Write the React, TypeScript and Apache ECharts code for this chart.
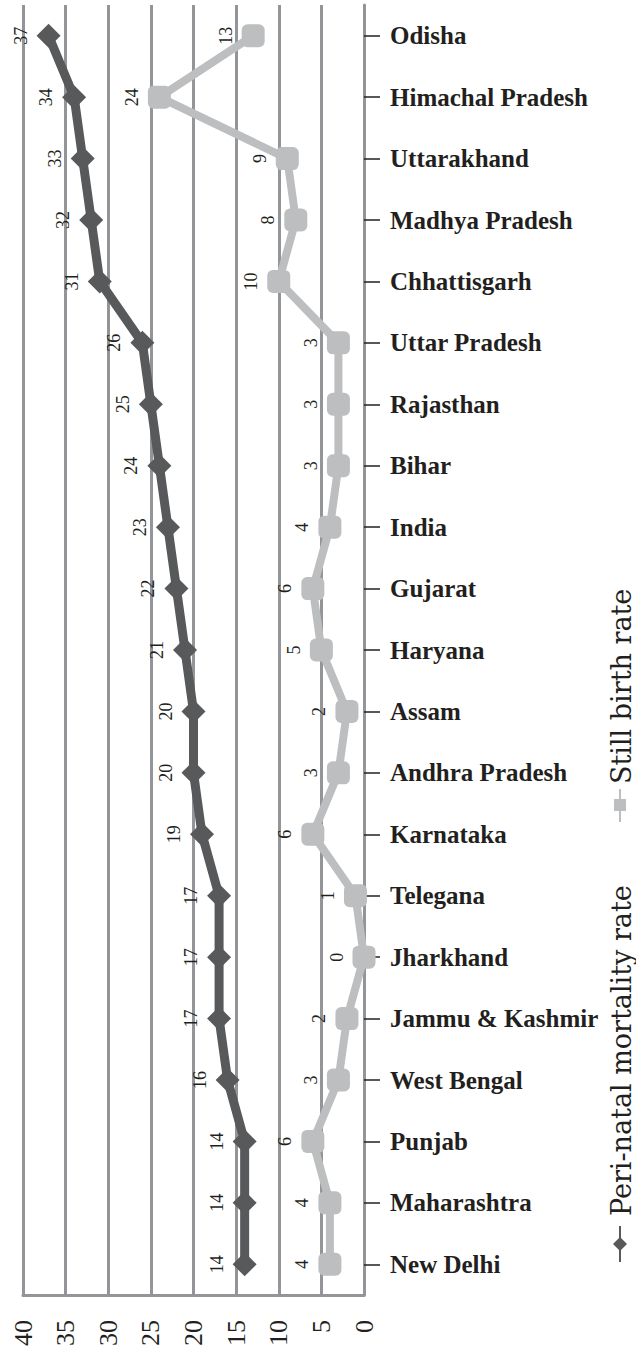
import React, { useEffect, useRef } from "react";
import * as echarts from "echarts";

const categories = [
  "Odisha", "Himachal Pradesh", "Uttarakhand", "Madhya Pradesh", "Chhattisgarh",
  "Uttar Pradesh", "Rajasthan", "Bihar", "India", "Gujarat", "Haryana", "Assam",
  "Andhra Pradesh", "Karnataka", "Telegana", "Jharkhand", "Jammu & Kashmir",
  "West Bengal", "Punjab", "Maharashtra", "New Delhi",
];
const periNatal = [37, 34, 33, 32, 31, 26, 25, 24, 23, 22, 21, 20, 20, 19, 17, 17, 17, 16, 14, 14, 14];
const stillBirth = [13, 24, 9, 8, 10, 3, 3, 3, 4, 6, 5, 2, 3, 6, 1, 0, 2, 3, 6, 4, 4];
const seriesNames = ["Peri-natal mortality rate", "Still birth rate"];
const axisMin = 0;
const axisMax = 40;
const axisStep = 5;

const SERIF = "'Liberation Serif', 'DejaVu Serif', serif";
const WIDE_SERIF = "'DejaVu Serif', 'Liberation Serif', serif";
const DARK = "#58595b";
const LIGHT = "#bcbec0";
const TEXT = "#231f20";
const GRID = "#939598";

export default function App() {
  const ref = useRef<HTMLDivElement>(null);
  useEffect(() => {
    if (!ref.current) return;
    const chart = echarts.init(ref.current, null, { renderer: "svg" });
    const labelCfg = {
      show: true,
      position: "left",
      distance: 7,
      rotate: 90,
      align: "center",
      verticalAlign: "bottom",
      fontSize: 18,
      fontFamily: SERIF,
      color: TEXT,
    };
    chart.setOption({
      animation: false,
      backgroundColor: "#ffffff",
      grid: { left: 23, right: 272, top: 5, bottom: 59 },
      xAxis: {
        type: "value",
        inverse: true,
        min: axisMin,
        max: axisMax,
        interval: axisStep,
        position: "bottom",
        axisLine: { show: true, lineStyle: { color: GRID, width: 3 } },
        axisTick: { show: false },
        splitLine: { show: true, lineStyle: { color: GRID, width: 3 } },
        axisLabel: {
          rotate: 90,
          margin: 25,
          fontSize: 26,
          fontFamily: SERIF,
          color: TEXT,
        },
      },
      yAxis: {
        type: "category",
        inverse: true,
        position: "right",
        data: categories,
        boundaryGap: true,
        axisLine: { show: true, lineStyle: { color: GRID, width: 3 } },
        axisTick: {
          show: true,
          alignWithLabel: true,
          length: 16,
          lineStyle: { color: TEXT, width: 1.5 },
        },
        splitLine: { show: false },
        axisLabel: {
          margin: 26,
          fontSize: 25,
          fontWeight: "bold",
          fontFamily: SERIF,
          color: TEXT,
        },
      },
      series: [
        {
          name: seriesNames[0],
          type: "line",
          data: periNatal,
          symbol: "diamond",
          symbolSize: 24,
          itemStyle: { color: DARK },
          lineStyle: { color: DARK, width: 9 },
          label: labelCfg,
          z: 3,
        },
        {
          name: seriesNames[1],
          type: "line",
          data: stillBirth,
          symbol: "roundRect",
          symbolSize: 23,
          itemStyle: { color: LIGHT },
          lineStyle: { color: LIGHT, width: 8 },
          label: labelCfg,
          z: 2,
        },
      ],
      graphic: [
        {
          type: "group",
          x: 620,
          y: 1262,
          rotation: Math.PI / 2,
          children: [
            { type: "line", shape: { x1: 0, y1: 0, x2: 36, y2: 0 }, style: { stroke: DARK, lineWidth: 2 } },
            { type: "polygon", shape: { points: [[18, -7], [25, 0], [18, 7], [11, 0]] }, style: { fill: DARK } },
            {
              type: "text",
              x: 46,
              y: 1,
              style: { text: seriesNames[0], font: `27px ${WIDE_SERIF}`, fill: TEXT, align: "left", verticalAlign: "middle" },
            },
            { type: "line", shape: { x1: 440, y1: 0, x2: 473, y2: 0 }, style: { stroke: LIGHT, lineWidth: 2 } },
            { type: "rect", shape: { x: 451, y: -6, width: 12, height: 12 }, style: { fill: LIGHT } },
            {
              type: "text",
              x: 478,
              y: 1,
              style: { text: seriesNames[1], font: `27px ${WIDE_SERIF}`, fill: TEXT, align: "left", verticalAlign: "middle" },
            },
          ],
        },
      ],
    });
    return () => chart.dispose();
  }, []);
  return (
    <div
      ref={ref}
      style={{ position: "fixed", left: 0, top: 0, width: 636, height: 1354, background: "#fff" }}
    />
  );
}
